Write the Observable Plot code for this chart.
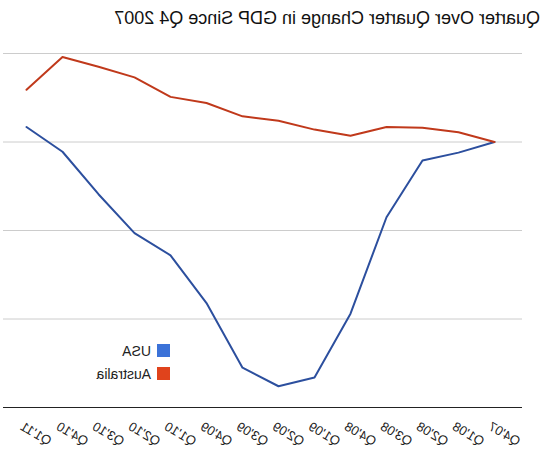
<!DOCTYPE html>
<html>
<head>
<meta charset="utf-8">
<script src="https://cdn.jsdelivr.net/npm/d3@7"></script>
<script src="https://cdn.jsdelivr.net/npm/@observablehq/plot@0.6"></script>
<style>
  html, body { margin: 0; padding: 0; background: #fff; }
  #page {
    position: relative; width: 551px; height: 452px; overflow: hidden;
    font-family: "Liberation Sans", Arial, sans-serif;
    transform: scaleX(-1); transform-origin: center;
  }
  #title { position: absolute; left: 11px; top: 8px; font-size: 18px; color: #111; white-space: nowrap; }
  #chart { position: absolute; left: 0; top: 0; }
  #legend { position: absolute; left: 381px; top: 339px; font-size: 14px; color: #222; }
  #legend div { display: flex; align-items: center; height: 23px; }
  #legend span.sw { width: 13px; height: 13px; margin-right: 6px; display: inline-block; }
</style>
</head>
<body>
<div id="page">
  <div id="chart"></div>
  <div id="title">Quarter Over Quarter Change in GDP Since Q4 2007</div>
  <div id="legend"></div>
</div>
<script>
// Quarters from Q4 2007 to Q1 2011
const quarters = ["Q4'07","Q1'08","Q2'08","Q3'08","Q4'08","Q1'09","Q2'09","Q3'09","Q4'09","Q1'10","Q2'10","Q3'10","Q4'10","Q1'11"];
// Cumulative change since Q4 2007 (one grid step = 1 unit)
const usa       = [0, -0.12, -0.21, -0.85, -1.94, -2.66, -2.76, -2.55, -1.82, -1.28, -1.03, -0.59, -0.11, 0.17];
const australia = [0, 0.11, 0.16, 0.17, 0.07, 0.14, 0.24, 0.29, 0.44, 0.51, 0.73, 0.85, 0.96, 0.59];
const seriesNames = ["USA", "Australia"];
const lineColors = ["#2c4f9e", "#c0391b"];
const swatchColors = ["#3b72d8", "#e0431c"];
const gridValues = [1, 0, -1, -2];

const rows = [];
quarters.forEach((q, i) => {
  rows.push({quarter: q, value: usa[i], series: "USA"});
  rows.push({quarter: q, value: australia[i], series: "Australia"});
});

const chart = Plot.plot({
  width: 551,
  height: 452,
  marginLeft: 29,
  marginRight: 3,
  marginTop: 53,
  marginBottom: 45,
  style: {fontFamily: "Liberation Sans, Arial, sans-serif", fontSize: "13px", color: "#222", background: "transparent"},
  x: {type: "point", domain: quarters, range: [51, 529.5], padding: 0, label: null},
  y: {domain: [-3, 1], axis: null},
  color: {domain: seriesNames, range: lineColors},
  marks: [
    Plot.ruleY(gridValues, {stroke: "#cccccc", strokeWidth: 1}),
    Plot.ruleY([-3], {stroke: "#222", strokeWidth: 1.2}),
    Plot.line(rows, {x: "quarter", y: "value", z: "series", stroke: "series", strokeWidth: 2, curve: "linear"}),
    Plot.axisX({tickSize: 0, tickRotate: -30, tickPadding: 15, dx: 5, dy: 3, label: null, fontSize: 13})
  ]
});
document.getElementById("chart").appendChild(chart);

const legend = document.getElementById("legend");
seriesNames.forEach((name, i) => {
  const row = document.createElement("div");
  const sw = document.createElement("span");
  sw.className = "sw";
  sw.style.background = swatchColors[i];
  row.appendChild(sw);
  row.appendChild(document.createTextNode(name));
  legend.appendChild(row);
});
</script>
</body>
</html>
